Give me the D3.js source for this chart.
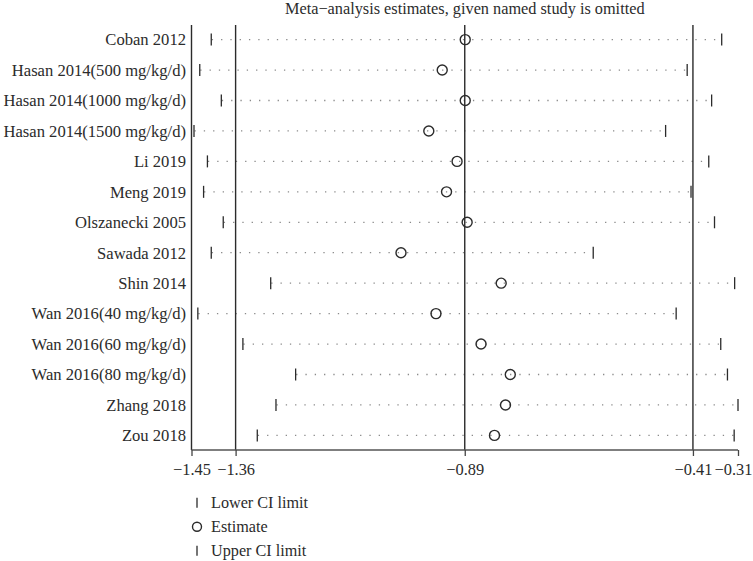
<!DOCTYPE html>
<html>
<head>
<meta charset="utf-8">
<script src="https://cdn.jsdelivr.net/npm/d3@7"></script>
<style>
  html, body { margin: 0; padding: 0; background: #fff; }
  svg { display: block; font-family: "Liberation Serif", "DejaVu Serif", serif; }
</style>
</head>
<body>
<svg id="chart" width="753" height="561"></svg>
<script>
const studies = [
  "Coban 2012", "Hasan 2014(500 mg/kg/d)", "Hasan 2014(1000 mg/kg/d)", "Hasan 2014(1500 mg/kg/d)",
  "Li 2019", "Meng 2019", "Olszanecki 2005", "Sawada 2012", "Shin 2014",
  "Wan 2016(40 mg/kg/d)", "Wan 2016(60 mg/kg/d)", "Wan 2016(80 mg/kg/d)", "Zhang 2018", "Zou 2018"
];
const estimates = [-0.884, -0.932, -0.884, -0.960, -0.901, -0.923, -0.880, -1.018, -0.809, -0.945, -0.851, -0.790, -0.800, -0.823];
const lowers    = [-1.419, -1.443, -1.398, -1.455, -1.427, -1.435, -1.394, -1.419, -1.295, -1.447, -1.353, -1.243, -1.284, -1.323];
const uppers    = [-0.349, -0.421, -0.370, -0.466, -0.376, -0.413, -0.364, -0.617, -0.322, -0.444, -0.351, -0.337, -0.315, -0.323];
const tickValues = [-1.455, -1.363, -0.885, -0.409, -0.315];
const tickLabels = ["\u22121.45", "\u22121.36", "\u22120.89", "\u22120.41", "\u22120.31"];
const refLines = [-1.363, -0.885, -0.409];
const legendItems = ["Lower CI limit", "Estimate", "Upper CI limit"];
const legendSymbols = ["bar", "circle", "bar"];
const titleText = "Meta\u2212analysis estimates, given named study is omitted";

(function () {
const svg = d3.select("#chart");
const mLeft = 191.5, mRight = 738, mTop = 25, mBottom = 450;
const ink = "#2b2b2b";

const x = d3.scaleLinear().domain([tickValues[0], tickValues[tickValues.length - 1]]).range([mLeft, mRight]);
const y = d3.scalePoint().domain(studies).range([mTop, mBottom]).padding(0.48);

// title
svg.append("text")
  .attr("x", (mLeft + mRight) / 2).attr("y", 14)
  .attr("text-anchor", "middle")
  .attr("font-size", 16.3).attr("fill", ink)
  .text(titleText);

const rows = studies.map((s, i) => ({ s, est: estimates[i], lo: lowers[i], hi: uppers[i] }));

// dotted CI lines
svg.append("g").selectAll("line").data(rows).join("line")
  .attr("x1", d => x(d.lo) + 3).attr("x2", d => x(d.hi))
  .attr("y1", d => y(d.s)).attr("y2", d => y(d.s))
  .attr("stroke", "#8a8a8a").attr("stroke-width", 1.3)
  .attr("stroke-dasharray", "1.3,8");

// reference lines
svg.append("g").selectAll("line").data(refLines).join("line")
  .attr("x1", d => x(d)).attr("x2", d => x(d))
  .attr("y1", mTop).attr("y2", mBottom)
  .attr("stroke", ink).attr("stroke-width", 1.4);

// left axis line
svg.append("line")
  .attr("x1", mLeft).attr("x2", mLeft).attr("y1", mTop).attr("y2", mBottom)
  .attr("stroke", ink).attr("stroke-width", 1.4);

// lower / upper CI markers
const markH = 12;
svg.append("g").selectAll("line").data(rows).join("line")
  .attr("x1", d => x(d.lo) + 2.5).attr("x2", d => x(d.lo) + 2.5)
  .attr("y1", d => y(d.s) - markH / 2).attr("y2", d => y(d.s) + markH / 2)
  .attr("stroke", ink).attr("stroke-width", 1.3);
svg.append("g").selectAll("line").data(rows).join("line")
  .attr("x1", d => x(d.hi)).attr("x2", d => x(d.hi))
  .attr("y1", d => y(d.s) - markH / 2).attr("y2", d => y(d.s) + markH / 2)
  .attr("stroke", ink).attr("stroke-width", 1.3);

// estimates
svg.append("g").selectAll("circle").data(rows).join("circle")
  .attr("cx", d => x(d.est)).attr("cy", d => y(d.s)).attr("r", 5)
  .attr("fill", "none").attr("stroke", ink).attr("stroke-width", 1.4);

// study labels
svg.append("g").selectAll("text").data(studies).join("text")
  .attr("x", 186).attr("y", d => y(d)).attr("dy", "0.35em")
  .attr("text-anchor", "end").attr("font-size", 16.6).attr("fill", ink)
  .text(d => d);

// x axis
const axis = d3.axisBottom(x).tickValues(tickValues).tickSize(6).tickPadding(7)
  .tickFormat((d, i) => tickLabels[i]);
const gx = svg.append("g").attr("transform", `translate(0,${mBottom})`).call(axis);
gx.select(".domain").attr("stroke", "#555").attr("stroke-width", 1.6).attr("d", `M${mLeft},0H${mRight}`);
gx.selectAll(".tick line").attr("stroke", "#444").attr("stroke-width", 1.3);
gx.selectAll(".tick text").attr("font-size", 16.4).attr("fill", ink)
  .attr("font-family", "Liberation Serif, DejaVu Serif, serif");
// keep the last label inside the page
gx.selectAll(".tick text").filter((d, i) => i === tickValues.length - 1)
  .attr("text-anchor", "end").attr("x", 752 - mRight);

// legend
const leg = svg.append("g");
legendItems.forEach((t, i) => {
  const ly = 502.7 + i * 24;
  if (legendSymbols[i] === "bar") {
    leg.append("line").attr("x1", 197).attr("x2", 197).attr("y1", ly - 5).attr("y2", ly + 5)
      .attr("stroke", ink).attr("stroke-width", 1.3);
  } else {
    leg.append("circle").attr("cx", 197).attr("cy", ly).attr("r", 4.5)
      .attr("fill", "none").attr("stroke", ink).attr("stroke-width", 1.4);
  }
  leg.append("text").attr("x", 211).attr("y", ly).attr("dy", "0.35em")
    .attr("font-size", 16.2).attr("fill", ink).text(t);
});
})();
</script>
</body>
</html>
